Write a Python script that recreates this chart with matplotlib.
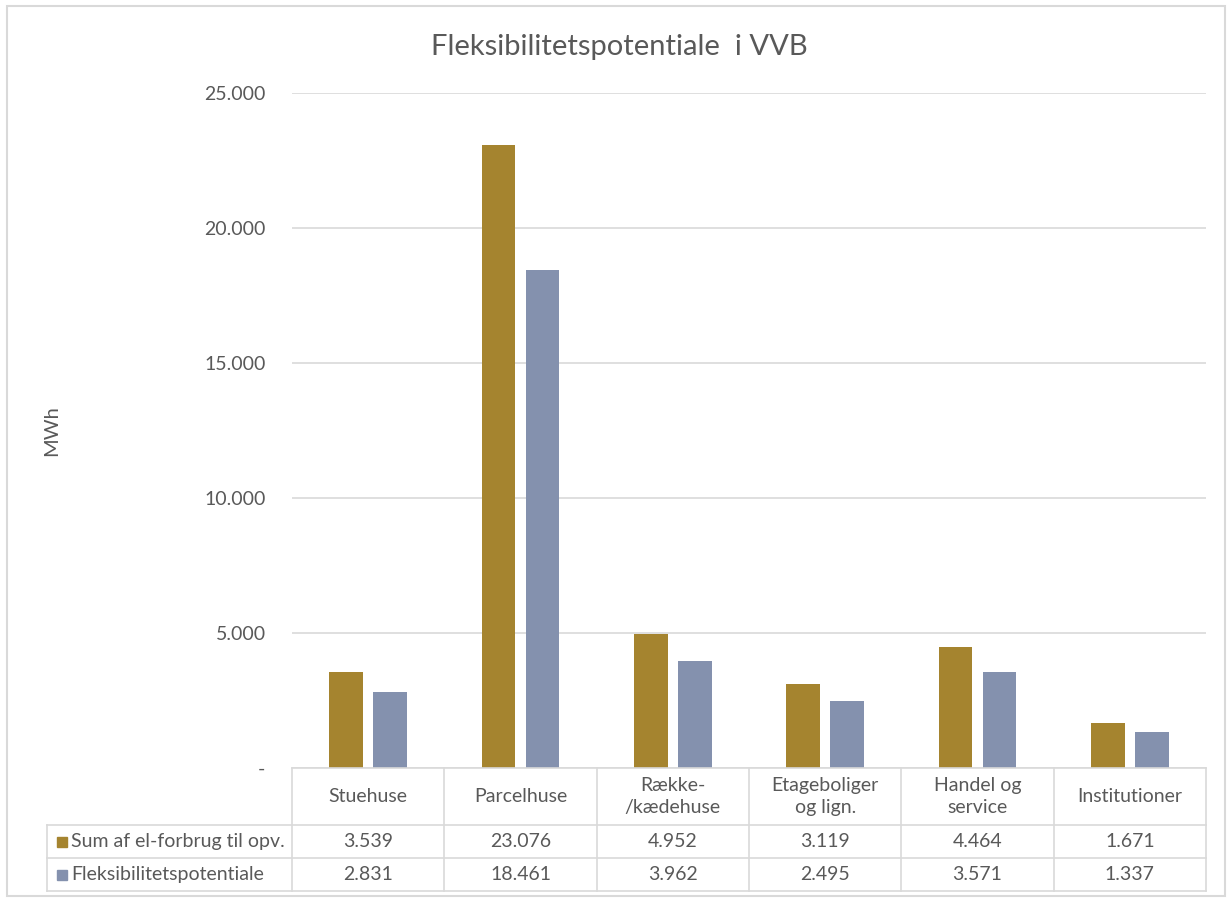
import matplotlib
matplotlib.use("Agg")
import matplotlib.pyplot as plt
from matplotlib.patches import Rectangle
from matplotlib.lines import Line2D

# data
categories = ["Stuehuse", "Parcelhuse", "Række-\n/kædehuse", "Etageboliger\nog lign.",
              "Handel og\nservice", "Institutioner"]
sum_el = [3539, 23076, 4952, 3119, 4464, 1671]
fleks = [2831, 18461, 3962, 2495, 3571, 1337]
series_names = ["Sum af el-forbrug til opv.", "Fleksibilitetspotentiale"]
yticks = [0, 5000, 10000, 15000, 20000, 25000]

gold = "#A5842F"
blue = "#8491AE"
txt = "#595959"
grid = "#D9D9D9"

plt.rcParams['font.family'] = ['Lato', 'DejaVu Sans']

W, H = 1230, 898
fig = plt.figure(figsize=(W / 100, H / 100), dpi=100)

def fx(x):
    return x / W

def fy(y):
    return 1 - y / H

# plot area in pixels
left, right, top, bottom = 292, 1206, 93, 768
ax = fig.add_axes([fx(left), fy(bottom), fx(right) - fx(left), fy(top) - fy(bottom)])

x = list(range(len(categories)))
bw = 0.22
off = 0.145
ax.bar([i - off for i in x], sum_el, width=bw, color=gold, zorder=3)
ax.bar([i + off for i in x], fleks, width=bw, color=blue, zorder=3)

ax.set_xlim(-0.5, len(categories) - 0.5)
ax.set_ylim(0, 25000)
ax.set_yticks(yticks)
ax.set_yticklabels(["-" if v == 0 else f"{v:,}".replace(",", ".") for v in yticks],
                   fontsize=14, color=txt)
ax.tick_params(axis='y', length=0, pad=19)
ax.set_xticks([])
ax.grid(axis='y', color=grid, linewidth=1.2, zorder=0)
for s in ax.spines.values():
    s.set_visible(False)

ax.set_ylabel("MWh", fontsize=14.5, color=txt)
ax.yaxis.set_label_coords((60 - left) / (right - left), 0.5)

fig.text(fx(619), fy(47), "Fleksibilitetspotentiale  i VVB", ha='center', va='center',
         fontsize=21, color=txt)

# data table under the plot
row_y = [768, 825, 858, 891]
col_w = (right - left) / len(categories)
col_x = [left + i * col_w for i in range(len(categories) + 1)]
tab_left = 47

def hline(x0, x1, y):
    fig.add_artist(Line2D([fx(x0), fx(x1)], [fy(y), fy(y)], color=grid, lw=1.2))

def vline(x, y0, y1):
    fig.add_artist(Line2D([fx(x), fx(x)], [fy(y0), fy(y1)], color=grid, lw=1.2))

hline(left, right, row_y[0])
for y in row_y[1:]:
    hline(tab_left, right, y)
for xc in col_x:
    vline(xc, row_y[0], row_y[3])
vline(tab_left, row_y[1], row_y[3])

for i, c in enumerate(categories):
    cx = col_x[i] + col_w / 2
    fig.text(fx(cx), fy((row_y[0] + row_y[1]) / 2), c, ha='center', va='center',
             fontsize=14, color=txt, linespacing=1.4)
    for r, vals in enumerate([sum_el, fleks]):
        fig.text(fx(cx), fy((row_y[r + 1] + row_y[r + 2]) / 2),
                 f"{vals[i]:,}".replace(",", "."), ha='center', va='center',
                 fontsize=14, color=txt)

for r, (name, col) in enumerate(zip(series_names, [gold, blue])):
    yc = (row_y[r + 1] + row_y[r + 2]) / 2
    fig.add_artist(Rectangle((fx(57), fy(yc + 5)), fx(10), 10 / H, color=col,
                             transform=fig.transFigure))
    fig.text(fx(71), fy(yc), name, ha='left', va='center', fontsize=14, color=txt)

# outer chart border
fig.add_artist(Rectangle((fx(7), fy(896)), fx(1218), fy(6) - fy(896), fill=False,
                         edgecolor="#D9D9D9", lw=1.5, transform=fig.transFigure))

fig.savefig("out.png", dpi=100)
